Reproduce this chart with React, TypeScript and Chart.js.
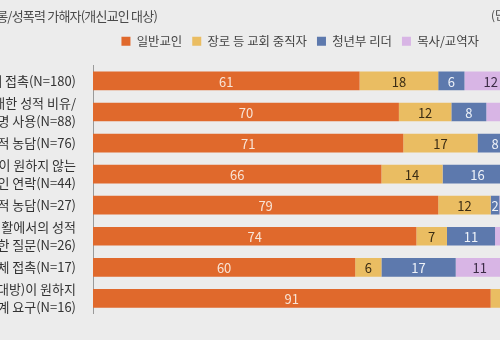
import React, { useEffect, useRef } from "react";
import { Chart, registerables } from "chart.js";

Chart.register(...registerables);

const categories: (string | string[])[] = [
  "원치 않는 신체 접촉(N=180)",
  ["신체에 대한 성적 비유/", "외모 평가, 별명 사용(N=88)"],
  "음담패설 등 성적 농담(N=76)",
  ["본인이 원하지 않는", "사적인 연락(N=44)"],
  "SNS를 통한 성적 농담(N=27)",
  ["사적 생활에서의 성적", "경험에 대한 질문(N=26)"],
  "강제적 신체 접촉(N=17)",
  ["본인(상대방)이 원하지", "않는 성관계 요구(N=16)"],
];

const seriesNames = ["일반교인", "장로 등 교회 중직자", "청년부 리더", "목사/교역자", "기타"];

const laity = [61, 70, 71, 66, 79, 74, 60, 91];
const elders = [18, 12, 17, 14, 12, 7, 6, 6];
const youthLeaders = [6, 8, 8, 16, 2, 11, 17, 0];
const pastors = [12, 10, 3, 2, 5, 4, 11, 3];
const others = [3, 0, 1, 2, 2, 4, 6, 0];

const titleText = "교회 내 성희롱/성폭력 가해자(개신교인 대상)";
const unitText = "(단위: %)";

const colors = ["#e0692c", "#eabd62", "#5d79ad", "#d8b5e5", "#79a9d8"];
const labelColors = ["#f8e4d6", "#3a2c14", "#eef2f8", "#3b2b45", "#1e2f45"];

const OFFSET = 160; // canvas starts left of the viewport
const CANVAS_W = OFFSET + 537;
const CANVAS_H = 340;
const FONT = "'Noto Sans CJK KR', 'Noto Sans', sans-serif";

const valueLabels = {
  id: "valueLabels",
  afterDatasetsDraw(chart: any) {
    const ctx = chart.ctx;
    ctx.save();
    ctx.font = `13px ${FONT}`;
    ctx.textAlign = "center";
    ctx.textBaseline = "middle";
    chart.data.datasets.forEach((ds: any, i: number) => {
      const meta = chart.getDatasetMeta(i);
      meta.data.forEach((bar: any, j: number) => {
        const v = ds.data[j];
        if (!v) return;
        const p = bar.getProps(["x", "y", "base"], true);
        ctx.fillStyle = labelColors[i];
        ctx.fillText(String(v), (p.x + p.base) / 2, p.y + 1);
      });
    });
    ctx.restore();
  },
};

export default function App() {
  const ref = useRef<HTMLCanvasElement>(null);
  useEffect(() => {
    if (!ref.current) return;
    const series = [laity, elders, youthLeaders, pastors, others];
    const chart = new Chart(ref.current, {
      type: "bar",
      data: {
        labels: categories,
        datasets: series.map((d, i) => ({
          label: seriesNames[i],
          data: d,
          backgroundColor: colors[i],
          borderWidth: 0,
          barPercentage: 0.6,
          categoryPercentage: 1,
        })),
      },
      options: {
        indexAxis: "y",
        responsive: false,
        animation: false,
        layout: { padding: { top: 25, bottom: 15, left: 0, right: 0 } },
        plugins: {
          legend: {
            display: true,
            position: "top",
            align: "end",
            labels: {
              boxWidth: 9,
              boxHeight: 9,
              padding: 10,
              color: "#444",
              font: { family: FONT, size: 12.4 },
            },
          },
          title: { display: false },
          tooltip: { enabled: false },
        },
        scales: {
          x: {
            stacked: true,
            min: 0,
            max: 100,
            position: "top",
            ticks: { display: false },
            grid: { display: false, drawTicks: false },
            border: { display: false },
            afterFit: (s: any) => {
              s.height = 8;
            },
          },
          y: {
            stacked: true,
            ticks: {
              autoSkip: false,
              padding: 17,
              color: "#333",
              font: { family: FONT, size: 13, lineHeight: 1.4 },
            },
            grid: { display: false, drawTicks: false },
            border: { display: true, color: "#9a9a9a", width: 1 },
            afterFit: (s: any) => {
              s.width = OFFSET + 93;
            },
          },
          yRight: {
            type: "category",
            position: "right",
            labels: ["", "", "", "", "", "", "", ""],
            ticks: { display: false },
            grid: { display: false, drawTicks: false },
            border: { display: false },
            afterFit: (s: any) => {
              s.width = 7;
            },
          },
        },
      } as any,
      plugins: [valueLabels],
    });
    return () => chart.destroy();
  }, []);

  return (
    <>
      <style>{`html,body{margin:0;overflow:hidden;background:#ececec}`}</style>
      <div
        style={{
          position: "fixed",
          left: -OFFSET,
          top: 0,
          width: CANVAS_W,
          height: CANVAS_H,
          background: "#ececec",
        }}
      >
        <canvas ref={ref} width={CANVAS_W} height={CANVAS_H} style={{ display: "block" }} />
      </div>
      <div
        style={{
          position: "fixed",
          right: 343,
          top: 6,
          whiteSpace: "nowrap",
          fontFamily: FONT,
          fontSize: 13,
          letterSpacing: "-0.8px",
          lineHeight: "20px",
          color: "#4a4a4a",
        }}
      >
        {titleText}
      </div>
      <div
        style={{
          position: "fixed",
          left: 491,
          top: 5,
          whiteSpace: "nowrap",
          fontFamily: FONT,
          fontSize: 12,
          lineHeight: "20px",
          color: "#4a4a4a",
        }}
      >
        {unitText}
      </div>
    </>
  );
}
